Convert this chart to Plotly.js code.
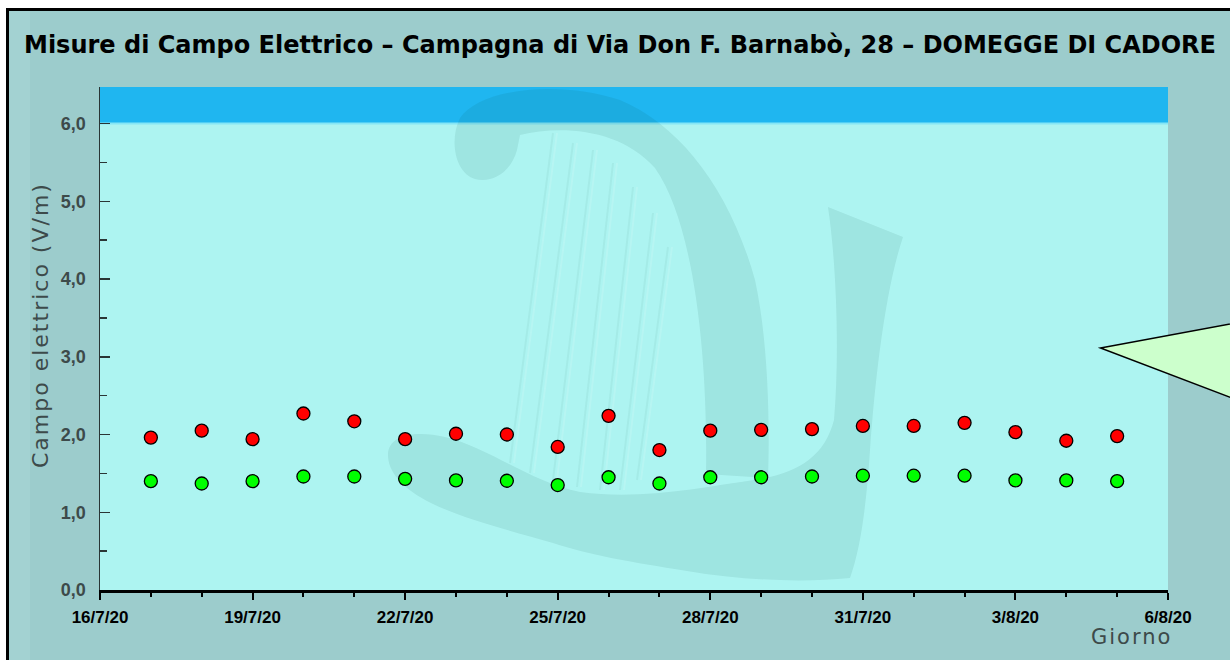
<!DOCTYPE html>
<html>
<head>
<meta charset="utf-8">
<script src="https://cdn.plot.ly/plotly-3.0.1.min.js"></script>
<style>
html,body{margin:0;padding:0;background:#ffffff;}
#chart{width:1230px;height:660px;}
.annotation-text{letter-spacing:2px;}
</style>
</head>
<body>
<div id="chart"></div>
<script>
// ---- data ----
const days = ['2020-07-17','2020-07-18','2020-07-19','2020-07-20','2020-07-21','2020-07-22','2020-07-23','2020-07-24','2020-07-25','2020-07-26',
              '2020-07-27','2020-07-28','2020-07-29','2020-07-30','2020-07-31','2020-08-01','2020-08-02','2020-08-03','2020-08-04','2020-08-05'];
const valMax = [1.96,2.05,1.94,2.27,2.17,1.94,2.01,2.00,1.84,2.24,1.80,2.05,2.06,2.07,2.11,2.11,2.15,2.03,1.92,1.98];
const valMed = [1.40,1.37,1.40,1.46,1.46,1.43,1.41,1.405,1.35,1.45,1.37,1.45,1.45,1.46,1.47,1.47,1.47,1.41,1.41,1.40];
const xTickVals = ['2020-07-16','2020-07-19','2020-07-22','2020-07-25','2020-07-28','2020-07-31','2020-08-03','2020-08-06'];
const xTickText = ['16/7/20','19/7/20','22/7/20','25/7/20','28/7/20','31/7/20','3/8/20','6/8/20'];
const yTickVals = [0,1,2,3,4,5,6];
const yTickText = ['0,0','1,0','2,0','3,0','4,0','5,0','6,0'];
const limitValue = 6.0;
const yTop = 6.47;
const titleText = 'Misure di Campo Elettrico – Campagna di Via Don F. Barnabò, 28 – DOMEGGE DI CADORE';
const yTitleText = 'Campo elettrico (V/m)';
const xTitleText = 'Giorno';

// ---- layout geometry (pixels -> paper) ----
const L = 100, R = 62, T = 87, Bm = 70;
const W = 1230 - L - R, H = 660 - T - Bm;
const B = 660 - Bm;
const px = x => (x - L) / W;
const py = y => (B - y) / H;
function path(cmds){
  return cmds.map(c => {
    const l = c[0]; const pts = [];
    for (let i = 1; i < c.length; i += 2) pts.push(px(c[i]).toFixed(5) + ',' + py(c[i+1]).toFixed(5));
    return l + ' ' + pts.join(' ');
  }).join(' ') + ' Z';
}

const harpFill = 'rgba(0,70,60,0.085)';
const shapes = [];
// light strip at left of frame
shapes.push({type:'rect', xref:'paper', yref:'paper', layer:'below', x0:px(9), x1:px(30), y0:py(670), y1:py(10), fillcolor:'#a3d2d2', line:{width:0}});
// limit band
shapes.push({type:'rect', xref:'paper', yref:'y', layer:'below', x0:0, x1:1, y0:limitValue, y1:yTop, fillcolor:'#1fb6f0', line:{width:0}});
shapes.push({type:'line', xref:'paper', yref:'y', layer:'below', x0:0, x1:1, y0:limitValue, y1:limitValue, line:{color:'#86e6f6', width:2}});
// harp watermark: neck arc with knob
shapes.push({type:'path', xref:'paper', yref:'paper', layer:'below', fillcolor:harpFill, line:{width:0},
  path: path([['M',517,150],['C',510,175,490,183,475,179],['C',455,173,449,140,460,118],['C',480,88,560,80,620,100],
              ['C',680,125,730,190,755,280],['C',768,340,770,420,768,478],['L',706,474],['C',708,360,695,225,655,168],
              ['C',620,128,560,125,520,135]])});
// base + front column
shapes.push({type:'path', xref:'paper', yref:'paper', layer:'below', fillcolor:harpFill, line:{width:0},
  path: path([['M',388,455],['C',388,435,415,430,445,437],['C',490,448,530,482,580,492],['C',640,500,700,488,760,479],
              ['C',800,472,825,455,834,420],['C',840,350,836,260,828,207],['L',903,237],['C',885,290,875,380,870,450],
              ['C',866,510,860,550,850,578],['C',800,583,740,580,687,571],['C',630,562,590,555,553,543],
              ['C',500,528,450,515,420,497],['C',400,485,388,470,388,455]])});
const strings = [[553,133,510,463],[573,143,530,473],[593,150,553,480],[613,163,577,487],[633,187,600,490],[653,213,620,490],[668,247,637,480]];
strings.forEach(s => {
  shapes.push({type:'line', xref:'paper', yref:'paper', layer:'below', x0:px(s[0]), y0:py(s[1]), x1:px(s[2]), y1:py(s[3]), line:{color:'rgba(0,70,60,0.05)', width:2}});
  shapes.push({type:'line', xref:'paper', yref:'paper', layer:'below', x0:px(s[0]+4), y0:py(s[1]), x1:px(s[2]+4), y1:py(s[3]), line:{color:'rgba(255,255,255,0.12)', width:2}});
});
// callout triangle
shapes.push({type:'path', xref:'paper', yref:'paper', layer:'above', fillcolor:'#ccffcc', line:{color:'#000000', width:1.5},
  path: path([['M',1100.5,348],['L',1290,313],['L',1290,420]])});
// frame
shapes.push({type:'rect', xref:'paper', yref:'paper', layer:'above', x0:px(-20), x1:px(1250), y0:py(8), y1:py(-20), fillcolor:'#ffffff', line:{width:0}});
shapes.push({type:'rect', xref:'paper', yref:'paper', layer:'above', x0:px(-20), x1:px(6), y0:py(680), y1:py(-20), fillcolor:'#ffffff', line:{width:0}});
shapes.push({type:'line', xref:'paper', yref:'paper', layer:'above', x0:px(6), x1:px(1250), y0:py(9.5), y1:py(9.5), line:{color:'#000000', width:3}});
shapes.push({type:'line', xref:'paper', yref:'paper', layer:'above', x0:px(7.5), x1:px(7.5), y0:py(8), y1:py(680), line:{color:'#000000', width:3}});

const traces = [
  {x: days, y: valMax, type:'scatter', mode:'markers', name:'max',
   marker:{color:'#ff0000', size:13, line:{color:'#000000', width:1.3}}, cliponaxis:false},
  {x: days, y: valMed, type:'scatter', mode:'markers', name:'media',
   marker:{color:'#00ff00', size:13, line:{color:'#000000', width:1.3}}, cliponaxis:false}
];

const layout = {
  width:1230, height:660,
  margin:{l:L, r:R, t:T, b:Bm, pad:0},
  paper_bgcolor:'#9ccccc',
  plot_bgcolor:'#adf4f1',
  showlegend:false,
  title:{text:'<b>' + titleText + '</b>', font:{family:'DejaVu Sans', size:24, color:'#000000'},
         xref:'container', yref:'container', x:620/1230, xanchor:'center', y:1-45/660, yanchor:'middle'},
  xaxis:{type:'date', range:['2020-07-16','2020-08-06'], tickmode:'array', tickvals:xTickVals, ticktext:xTickText,
         showgrid:false, zeroline:false, showline:true, linecolor:'#000000', linewidth:3,
         ticks:'outside', ticklen:7, tickwidth:2, tickcolor:'#000000', ticklabelstandoff:3,
         minor:{dtick:86400000, tick0:'2020-07-16', ticks:'outside', ticklen:4, tickwidth:2, tickcolor:'#000000', showgrid:false},
         tickfont:{family:'Liberation Sans', size:17, color:'#000000', weight:'bold'}, fixedrange:true},
  yaxis:{range:[0,yTop], tickmode:'array', tickvals:yTickVals, ticktext:yTickText,
         showgrid:false, zeroline:false, showline:true, linecolor:'#2a3535', linewidth:1.5,
         ticks:'inside', ticklen:10, tickwidth:1.5, tickcolor:'#2a3535', ticklabelstandoff:9,
         minor:{dtick:0.5, ticks:'inside', ticklen:7, tickwidth:1.5, tickcolor:'#2a3535', showgrid:false},
         tickfont:{family:'Liberation Sans', size:18, color:'#3d4a4a', weight:'bold'},
         fixedrange:true},
  shapes: shapes,
  annotations:[
    {text:yTitleText, xref:'paper', yref:'paper', x:px(40), y:py(325), xanchor:'center', yanchor:'middle', textangle:-90, showarrow:false,
     font:{family:'DejaVu Sans', size:22, color:'#3d4a4a'}},
    {text:xTitleText, xref:'paper', yref:'paper', x:px(1131), y:py(637), xanchor:'center', yanchor:'middle', showarrow:false,
     font:{family:'DejaVu Sans', size:21, color:'#3d4a4a'}}
  ]
};

Plotly.newPlot('chart', traces, layout, {displayModeBar:false, staticPlot:true});
</script>
</body>
</html>
